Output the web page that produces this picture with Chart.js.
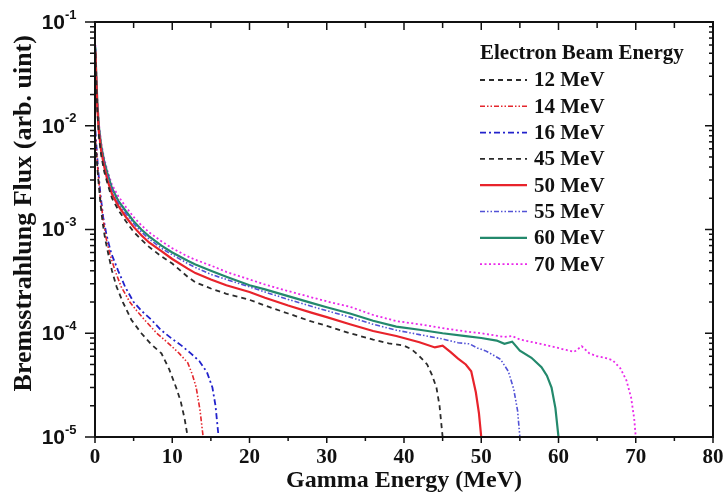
<!DOCTYPE html>
<html>
<head>
<meta charset="utf-8">
<script src="https://cdn.jsdelivr.net/npm/chart.js@4.4.1/dist/chart.umd.min.js"></script>
<style>
  html, body { margin: 0; padding: 0; background: #fff; }
  #chart { display: block; }
</style>
</head>
<body>
<canvas id="chart" width="725" height="499"></canvas>
<script>
// gamma energy (MeV) and flux, one pair per beam energy
const e12 = [0.05, 0.2, 0.4, 0.7, 1, 1.3, 1.7, 2.2, 2.8, 3.6, 4.7, 6, 7.3, 8.6, 9.6, 10.5, 11.1, 11.6, 12];
const f12 = [0.0068, 0.005, 0.0032, 0.0018, 0.00115, 0.00082, 0.00059, 0.0004, 0.00028, 0.0002, 0.000135, 0.0001, 0.000078, 0.000064, 0.000045, 0.00003, 0.000022, 0.000015, 0.00001];

const e14 = [0.05, 0.2, 0.4, 0.7, 1.07, 1.4, 1.9, 2.6, 3.4, 4.5, 5.4, 6.4, 8, 9.5, 10.9, 12, 12.6, 13.1, 13.6, 14];
const f14 = [0.0075, 0.0055, 0.0035, 0.002, 0.00123, 0.00085, 0.00059, 0.0004, 0.00028, 0.0002, 0.000165, 0.000135, 0.0001, 0.00008, 0.000064, 0.000052, 0.00004, 0.00003, 0.000018, 0.00001];

const e16 = [0.05, 0.2, 0.4, 0.7, 1.07, 1.5, 2.1, 3, 3.9, 5, 6, 7.3, 8.5, 10, 11.2, 12.4, 13.5, 14.5, 15.2, 15.6, 16];
const f16 = [0.009, 0.0062, 0.0038, 0.0022, 0.0013, 0.00088, 0.00059, 0.0004, 0.00028, 0.0002, 0.000165, 0.000135, 0.000108, 0.000088, 0.000076, 0.000064, 0.000054, 0.000042, 0.00003, 0.00002, 0.00001];

const e45 = [0.05, 0.15, 0.3, 0.5, 0.8, 1.2, 1.6, 2.2, 3, 4, 5, 6, 7, 8.6, 10, 12, 13, 15, 17, 20, 22, 25, 28, 30, 33, 36, 38, 40, 41, 42, 43, 43.6, 44.2, 44.6, 45];
const f45 = [0.05, 0.028, 0.014, 0.008, 0.0052, 0.0036, 0.0028, 0.002, 0.00155, 0.0012, 0.00095, 0.0008, 0.00068, 0.00055, 0.00047, 0.00035, 0.00031, 0.00027, 0.00024, 0.00021, 0.000185, 0.000155, 0.00013, 0.000118, 0.0001, 0.000087, 0.00008, 0.000076, 0.00007, 0.00006, 0.00005, 0.00004, 0.00003, 0.00002, 0.00001];

const e50 = [0.05, 0.15, 0.3, 0.5, 0.8, 1.2, 1.6, 2.2, 3, 4, 5, 6, 7, 8.6, 10, 12, 13, 15, 17, 20, 22, 25, 28, 30, 33, 36, 39, 42, 44, 45, 46, 47, 48, 48.7, 49.3, 49.7, 50];
const f50 = [0.052, 0.03, 0.015, 0.0088, 0.0057, 0.004, 0.003, 0.0022, 0.0017, 0.00132, 0.00106, 0.00088, 0.00075, 0.00062, 0.00052, 0.00042, 0.00038, 0.00033, 0.00029, 0.00025, 0.00022, 0.000185, 0.000158, 0.000143, 0.000122, 0.000105, 0.000094, 0.000082, 0.000073, 0.000076, 0.000066, 0.000057, 0.00005, 0.000043, 0.000027, 0.000017, 0.00001];

const e55 = [0.05, 0.15, 0.3, 0.5, 0.8, 1.2, 1.6, 2.2, 3, 4, 5, 6, 7, 8.6, 10, 12, 13, 15, 17, 20, 22, 25, 28, 30, 33, 36, 39, 42, 45, 47, 48.5, 49.5, 50.5, 51.5, 52.5, 53.5, 54.2, 54.7, 55];
const f55 = [0.055, 0.032, 0.016, 0.0094, 0.0061, 0.0043, 0.0033, 0.0024, 0.0018, 0.00142, 0.00114, 0.00095, 0.00081, 0.00066, 0.00057, 0.00047, 0.00043, 0.00037, 0.00033, 0.00028, 0.00025, 0.000212, 0.000182, 0.000165, 0.000143, 0.000122, 0.000107, 0.000097, 0.000088, 0.000081, 0.000079, 0.000072, 0.000068, 0.000062, 0.000056, 0.000043, 0.000029, 0.000018, 0.00001];

const e60 = [0.05, 0.15, 0.3, 0.5, 0.8, 1.2, 1.6, 2.2, 3, 4, 5, 6, 7, 8.6, 10, 12, 13, 15, 17, 20, 22, 25, 28, 30, 33, 36, 39, 42, 45, 48, 50, 52, 53, 54, 55, 56.5, 57.8, 58.5, 59.1, 59.6, 60];
const f60 = [0.057, 0.033, 0.017, 0.0098, 0.0064, 0.0045, 0.0035, 0.0025, 0.0019, 0.0015, 0.0012, 0.001, 0.00086, 0.0007, 0.0006, 0.0005, 0.00046, 0.0004, 0.00035, 0.00029, 0.000265, 0.000228, 0.000196, 0.000178, 0.000155, 0.000132, 0.000116, 0.000108, 0.0001, 0.000094, 0.00009, 0.000085, 0.000079, 0.000083, 0.000068, 0.000058, 0.000047, 0.000039, 0.00003, 0.000019, 0.00001];

const e70 = [0.05, 0.15, 0.3, 0.5, 0.8, 1.2, 1.6, 2.2, 3, 4, 5, 6, 7, 8.6, 10, 12, 13, 15, 17, 20, 22, 25, 28, 30, 33, 36, 39, 42, 45, 48, 50, 53, 54, 55, 57, 59, 61, 62, 63, 64, 65, 66, 67, 68, 68.8, 69.4, 69.8, 70];
const f70 = [0.06, 0.035, 0.018, 0.0105, 0.0068, 0.0048, 0.0037, 0.0027, 0.0021, 0.00165, 0.00132, 0.0011, 0.00094, 0.00077, 0.00066, 0.00055, 0.00051, 0.00045, 0.00039, 0.00033, 0.000295, 0.000255, 0.000222, 0.000203, 0.00018, 0.00015, 0.000131, 0.000122, 0.000112, 0.000104, 0.0001, 0.000092, 0.000094, 0.000087, 0.000081, 0.000075, 0.000069, 0.000066, 0.000075, 0.000064, 0.00006, 0.000058, 0.000055, 0.000046, 0.000035, 0.000024, 0.000015, 0.00001];

const beamLabels = ['12 MeV', '14 MeV', '16 MeV', '45 MeV', '50 MeV', '55 MeV', '60 MeV', '70 MeV'];
const legendTitle = 'Electron Beam Energy';
const yDecades = [-5, -4, -3, -2, -1];

const series = [[e12, f12], [e14, f14], [e16, f16], [e45, f45], [e50, f50], [e55, f55], [e60, f60], [e70, f70]];
const styles = [
    {color: '#2b2b2b', dash: [5, 4], width: 1.8},
    {color: '#e4262c', dash: [5, 2, 1.5, 2, 1.5, 2], width: 1.6},
    {color: '#2222cc', dash: [6, 3, 2, 3], width: 1.8},
    {color: '#2b2b2b', dash: [5, 4], width: 1.8},
    {color: '#e8232b', dash: [], width: 2.2},
    {color: '#5252d6', dash: [5, 2, 1.5, 2, 1.5, 2], width: 1.6},
    {color: '#23896c', dash: [], width: 2.2},
    {color: '#ea28ea', dash: [2, 2.5], width: 1.8}
];

const serif = '"Liberation Serif", "Times New Roman", serif';
const sans = '"Liberation Sans", Arial, sans-serif';

const drawLine = (ctx, x1, y1, x2, y2) => {
    ctx.beginPath();
    ctx.moveTo(x1, y1);
    ctx.lineTo(x2, y2);
    ctx.stroke();
};

// box frame, ticks (out on bottom/left, in on top/right) and the 10^n labels
const framePlugin = {
    id: 'frame',
    afterDatasetsDraw: chart => {
        const {ctx, chartArea: a, scales: {x, y}} = chart;
        ctx.save();
        ctx.strokeStyle = '#111';
        ctx.lineWidth = 2;
        ctx.strokeRect(a.left, a.top, a.right - a.left, a.bottom - a.top);
        ctx.lineWidth = 1.5;
        for (let v = 0; v <= 80; v += 5) {
            const px = x.getPixelForValue(v);
            const len = v % 10 === 0 ? 6 : 4;
            drawLine(ctx, px, a.bottom, px, a.bottom + len);
            drawLine(ctx, px, a.top, px, a.top + len + 2);
        }
        yDecades.forEach(d => {
            for (let k = 1; k <= 9; k++) {
                if (d === -1 && k > 1) break;
                const py = y.getPixelForValue(k * Math.pow(10, d));
                const len = k === 1 ? 10 : 5;
                drawLine(ctx, a.left - len, py, a.left, py);
                drawLine(ctx, a.right - (k === 1 ? 8 : 4), py, a.right, py);
            }
            const py = y.getPixelForValue(Math.pow(10, d));
            ctx.fillStyle = '#111';
            ctx.textBaseline = 'middle';
            ctx.textAlign = 'right';
            ctx.font = 'bold 21px ' + sans;
            ctx.fillText('10', 65, py + 1);
            ctx.textAlign = 'left';
            ctx.font = 'bold 13px ' + sans;
            ctx.fillText(String(d), 65, py - 7);
        });
        ctx.restore();
    }
};

const legendPlugin = {
    id: 'innerLegend',
    afterDraw: chart => {
        const {ctx} = chart;
        ctx.save();
        ctx.fillStyle = '#111';
        ctx.textBaseline = 'middle';
        ctx.textAlign = 'left';
        ctx.font = 'bold 21px ' + serif;
        ctx.fillText(legendTitle, 480, 54);
        chart.data.datasets.forEach((ds, i) => {
            const yy = 80 + i * 26.3;
            ctx.strokeStyle = ds.borderColor;
            ctx.lineWidth = ds.borderWidth;
            ctx.setLineDash(ds.borderDash);
            drawLine(ctx, 480, yy, 527, yy);
            ctx.setLineDash([]);
            ctx.fillText(ds.label, 534, yy + 1);
        });
        ctx.restore();
    }
};

new Chart(document.getElementById('chart'), {
    type: 'line',
    data: {
        datasets: series.map(([ex, fx], i) => ({
            label: beamLabels[i],
            data: ex.map((e, j) => ({x: e, y: fx[j]})),
            borderColor: styles[i].color,
            borderDash: styles[i].dash,
            borderWidth: styles[i].width,
            pointRadius: 0,
            tension: 0,
            fill: false
        }))
    },
    options: {
        responsive: false,
        animation: false,
        devicePixelRatio: 1,
        layout: {padding: {top: 22, right: 12, left: 0, bottom: 0}},
        plugins: {
            legend: {display: false},
            tooltip: {enabled: false}
        },
        scales: {
            x: {
                type: 'linear',
                min: 0,
                max: 80,
                grid: {display: false},
                border: {display: false},
                ticks: {
                    stepSize: 10,
                    autoSkip: false,
                    maxRotation: 0,
                    padding: 0,
                    color: '#111',
                    font: {family: serif, size: 21, weight: 'bold'}
                },
                title: {
                    display: true,
                    text: 'Gamma Energy (MeV)',
                    color: '#111',
                    padding: {top: 0, bottom: 4},
                    font: {family: serif, size: 24, weight: 'bold'}
                },
                afterFit: scale => { scale.height = 62; }
            },
            y: {
                type: 'logarithmic',
                min: 1e-5,
                max: 1e-1,
                grid: {display: false},
                border: {display: false},
                ticks: {display: false},
                title: {
                    display: true,
                    // leading no-break spaces lift the title a little above the plot centre, as in the figure
                    text: '\u00a0\u00a0\u00a0\u00a0\u00a0Bremsstrahlung Flux (arb. uint)',
                    color: '#111',
                    padding: {top: 9, bottom: 0},
                    font: {family: serif, size: 26, weight: 'bold'}
                },
                afterFit: scale => { scale.width = 95; }
            }
        }
    },
    plugins: [framePlugin, legendPlugin]
});
</script>
</body>
</html>
